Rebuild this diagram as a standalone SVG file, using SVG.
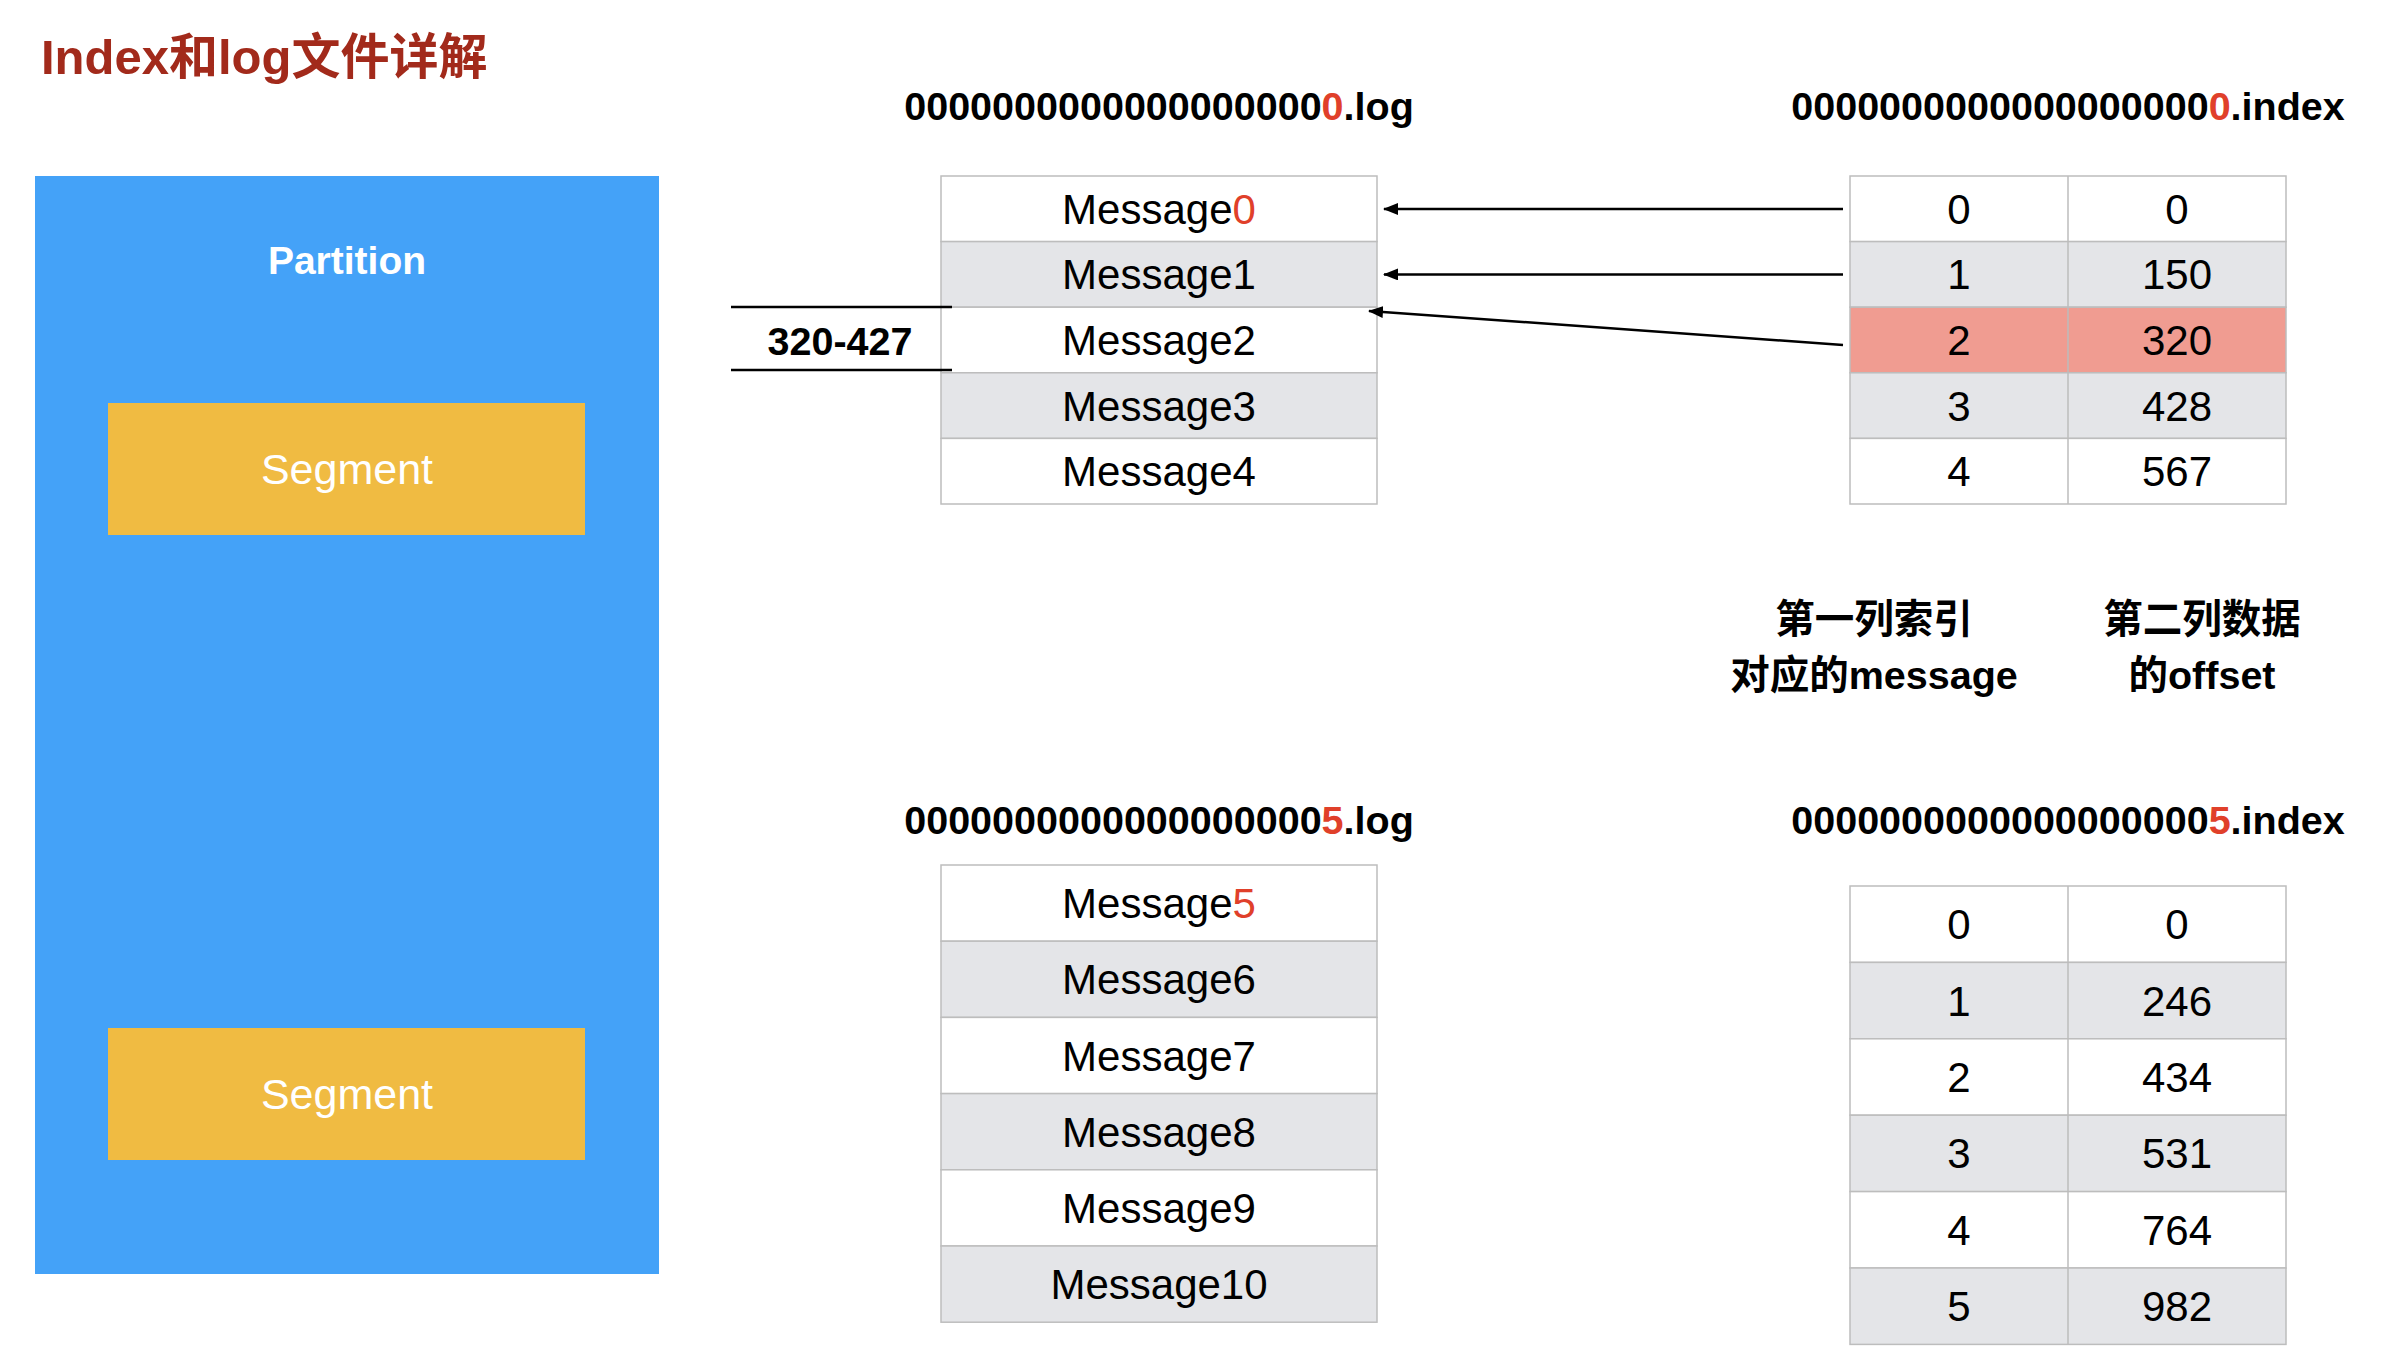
<svg xmlns="http://www.w3.org/2000/svg" width="2396" height="1372" viewBox="0 0 2396 1372">
<style>
.bg{fill:#ffffff}
.title{font-family:"Liberation Sans","Noto Sans CJK SC",sans-serif;font-weight:bold;font-size:49px;fill:#A22A1B}
.hdr{font-family:"Liberation Sans",Arial,sans-serif;font-weight:bold;font-size:39.5px;fill:#000;text-anchor:middle}
.red{fill:#E0402A}
.cell{font-family:"Liberation Sans",Arial,sans-serif;font-size:42px;fill:#000;text-anchor:middle}
.w{fill:#ffffff;stroke:#BDBDBD;stroke-width:1.5}
.g{fill:#E4E5E8;stroke:#BDBDBD;stroke-width:1.5}
.s{fill:#F09C91;stroke:#BDBDBD;stroke-width:1.5}
.div{stroke:#BDBDBD;stroke-width:1.5}
.part{fill:#44A2F8}
.seg{fill:#F0BB42}
.wt{font-family:"Liberation Sans",Arial,sans-serif;fill:#ffffff;text-anchor:middle}
.cap{font-family:"Liberation Sans","Noto Sans CJK SC",sans-serif;font-weight:bold;font-size:39.5px;fill:#000;text-anchor:middle}
.conn{stroke:#000;stroke-width:2.5;fill:none}
</style>
<defs>
<marker id="ah" markerUnits="userSpaceOnUse" markerWidth="16" markerHeight="12" refX="14" refY="6" orient="auto">
<path d="M0,0 L15,6 L0,12 z" fill="#000"/>
</marker>
</defs>
<rect class="bg" x="0" y="0" width="2396" height="1372"/>

<g id="title">
<text class="title" x="41" y="74">Index和log文件详解</text>
</g>

<g id="partition">
<rect class="part" x="35" y="176" width="624" height="1098"/>
<text class="wt" x="347" y="274" font-size="39" font-weight="bold">Partition</text>
</g>
<g id="segment1">
<rect class="seg" x="108" y="403" width="477" height="132"/>
<text class="wt" x="347" y="484" font-size="43">Segment</text>
</g>
<g id="segment2">
<rect class="seg" x="108" y="1028" width="477" height="132"/>
<text class="wt" x="347" y="1109" font-size="43">Segment</text>
</g>

<g id="log0">
<text class="hdr" x="1159" y="120">0000000000000000000<tspan class="red">0</tspan>.log</text>
<rect class="w" x="941" y="176" width="436" height="65.6"/>
<rect class="g" x="941" y="241.6" width="436" height="65.6"/>
<rect class="w" x="941" y="307.2" width="436" height="65.6"/>
<rect class="g" x="941" y="372.8" width="436" height="65.6"/>
<rect class="w" x="941" y="438.4" width="436" height="65.6"/>
<text class="cell" x="1159" y="223.8">Message<tspan class="red">0</tspan></text>
<text class="cell" x="1159" y="289.4">Message1</text>
<text class="cell" x="1159" y="355">Message2</text>
<text class="cell" x="1159" y="420.6">Message3</text>
<text class="cell" x="1159" y="486.2">Message4</text>
</g>

<g id="range">
<line x1="731" y1="307" x2="952" y2="307" stroke="#000" stroke-width="2.5"/>
<line x1="731" y1="370" x2="952" y2="370" stroke="#000" stroke-width="2.5"/>
<text class="hdr" x="840" y="355" font-size="40">320-427</text>
</g>

<g id="index0">
<text class="hdr" x="2068" y="120">0000000000000000000<tspan class="red">0</tspan>.index</text>
<rect class="w" x="1850" y="176" width="436" height="65.6"/>
<rect class="g" x="1850" y="241.6" width="436" height="65.6"/>
<rect class="s" x="1850" y="307.2" width="436" height="65.6"/>
<rect class="g" x="1850" y="372.8" width="436" height="65.6"/>
<rect class="w" x="1850" y="438.4" width="436" height="65.6"/>
<line class="div" x1="2068" y1="176" x2="2068" y2="504"/>
<text class="cell" x="1959" y="223.8">0</text><text class="cell" x="2177" y="223.8">0</text>
<text class="cell" x="1959" y="289.4">1</text><text class="cell" x="2177" y="289.4">150</text>
<text class="cell" x="1959" y="355">2</text><text class="cell" x="2177" y="355">320</text>
<text class="cell" x="1959" y="420.6">3</text><text class="cell" x="2177" y="420.6">428</text>
<text class="cell" x="1959" y="486.2">4</text><text class="cell" x="2177" y="486.2">567</text>
</g>

<g id="captions">
<text class="cap" x="1874" y="633">第一列索引</text>
<text class="cap" x="1874" y="689">对应的message</text>
<text class="cap" x="2202" y="633">第二列数据</text>
<text class="cap" x="2202" y="689">的offset</text>
</g>

<g id="log5">
<text class="hdr" x="1159" y="834">0000000000000000000<tspan class="red">5</tspan>.log</text>
<rect class="w" x="941" y="865" width="436" height="76.2"/>
<rect class="g" x="941" y="941.2" width="436" height="76.2"/>
<rect class="w" x="941" y="1017.4" width="436" height="76.2"/>
<rect class="g" x="941" y="1093.6" width="436" height="76.2"/>
<rect class="w" x="941" y="1169.8" width="436" height="76.2"/>
<rect class="g" x="941" y="1246" width="436" height="76.2"/>
<text class="cell" x="1159" y="918.1">Message<tspan class="red">5</tspan></text>
<text class="cell" x="1159" y="994.3">Message6</text>
<text class="cell" x="1159" y="1070.5">Message7</text>
<text class="cell" x="1159" y="1146.7">Message8</text>
<text class="cell" x="1159" y="1222.9">Message9</text>
<text class="cell" x="1159" y="1299.1">Message10</text>
</g>

<g id="index5">
<text class="hdr" x="2068" y="834">0000000000000000000<tspan class="red">5</tspan>.index</text>
<rect class="w" x="1850" y="886" width="436" height="76.4"/>
<rect class="g" x="1850" y="962.4" width="436" height="76.4"/>
<rect class="w" x="1850" y="1038.8" width="436" height="76.4"/>
<rect class="g" x="1850" y="1115.2" width="436" height="76.4"/>
<rect class="w" x="1850" y="1191.6" width="436" height="76.4"/>
<rect class="g" x="1850" y="1268" width="436" height="76.4"/>
<line class="div" x1="2068" y1="886" x2="2068" y2="1344.4"/>
<text class="cell" x="1959" y="939.2">0</text><text class="cell" x="2177" y="939.2">0</text>
<text class="cell" x="1959" y="1015.6">1</text><text class="cell" x="2177" y="1015.6">246</text>
<text class="cell" x="1959" y="1092">2</text><text class="cell" x="2177" y="1092">434</text>
<text class="cell" x="1959" y="1168.4">3</text><text class="cell" x="2177" y="1168.4">531</text>
<text class="cell" x="1959" y="1244.8">4</text><text class="cell" x="2177" y="1244.8">764</text>
<text class="cell" x="1959" y="1321.2">5</text><text class="cell" x="2177" y="1321.2">982</text>
</g>

<g id="connectors">
<line class="conn" x1="1843" y1="209" x2="1384" y2="209" marker-end="url(#ah)"/>
<line class="conn" x1="1843" y1="274.4" x2="1384" y2="274.4" marker-end="url(#ah)"/>
<line class="conn" x1="1843" y1="345" x2="1369" y2="311" marker-end="url(#ah)"/>
</g>
</svg>
